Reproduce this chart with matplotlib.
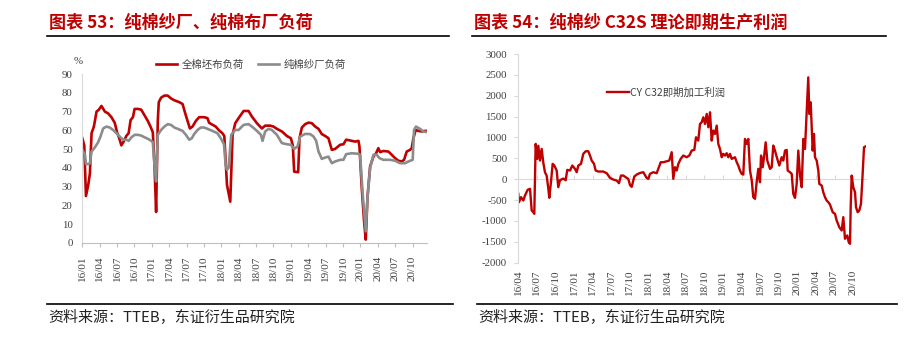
import numpy as np
import matplotlib
matplotlib.use("Agg")
import matplotlib.pyplot as plt
from matplotlib.lines import Line2D

plt.rcParams['axes.unicode_minus'] = False

# ---------------- data: left chart (months since 2016-01) ----------------
left_title = "图表 53：纯棉纱厂、纯棉布厂负荷"
left_ticklabels = ["16/01", "16/04", "16/07", "16/10", "17/01", "17/04", "17/07", "17/10",
                   "18/01", "18/04", "18/07", "18/10", "19/01", "19/04", "19/07", "19/10",
                   "20/01", "20/04", "20/07", "20/10"]
left_yticks = [0, 10, 20, 30, 40, 50, 60, 70, 80, 90]
cloth_name = "全棉坯布负荷"
cloth_m = [0, 0.34, 0.63, 1.03, 1.31, 1.6, 2.0, 2.46, 2.86, 3.31, 3.89, 4.46, 5.03, 5.6, 6.0,
           6.46, 6.74, 7.14, 7.6, 8.0, 8.34, 8.74, 9.03, 9.6, 10.17, 10.74, 11.31, 11.77,
           12.17, 12.46, 12.74, 13.03, 13.2, 13.6, 14.17, 14.74, 15.31, 15.89, 16.74, 17.31,
           17.77, 18.17, 18.57, 19.03, 19.6, 20.17, 21.03, 21.6, 21.89, 22.46, 23.03, 23.6,
           24.17, 24.51, 24.97, 25.54, 25.94, 26.4, 26.98, 27.84, 28.7, 29.28, 30.14, 31.0,
           31.57, 32.44, 33.0, 33.59, 34.45, 35.31, 36.0, 36.34, 36.57, 37.26, 37.49, 37.9,
           38.47, 39.05, 39.62, 40.2, 40.77, 41.34, 41.92, 42.49, 43.07, 43.64, 44.5, 45.08,
           45.54, 46.23, 47.1, 47.67, 47.84, 48.24, 48.64, 48.93, 49.22, 49.68, 50.25, 50.71,
           51.1, 51.4, 51.98, 52.84, 53.41, 53.99, 54.56, 55.14, 55.54, 56.0, 56.57, 56.86,
           57.15, 57.55, 58.0, 58.6, 59.16, 59.56]
cloth_v = [55.8, 52, 25, 31, 37, 58.5, 62, 70, 71, 73, 70, 69, 67, 64, 59,
           55, 52, 54, 57, 58.5, 65.5, 67, 71.4, 71.4, 71, 68, 65, 62,
           59, 41.6, 16.5, 65, 75, 77.4, 78.5, 78.5, 77, 76, 75, 74,
           69, 65, 61, 62, 65, 67, 67, 66.5, 64, 63, 62, 60,
           58.5, 57, 31, 22, 57.6, 63.8, 66.5, 70.3, 70.3, 67.3, 63.8, 61,
           62.5, 62.5, 62, 60.8, 59.4, 57, 55.8, 52, 38, 37.7, 55.8, 61.5,
           63.3, 64.1, 63.8, 62, 60.8, 58, 57, 55.8, 49.6, 50.1, 52.3, 52.6,
           55, 54.6, 54, 54.4, 51.4, 29.2, 11.5, 1.8, 24, 40.8, 46, 47.8,
           50.5, 48.4, 49, 48.7, 47, 45.2, 43.8, 43.4, 44.3, 48.7, 49.6, 50.5,
           55.8, 60.2, 59.7, 59.4, 59.7, 59.7]
yarn_name = "纯棉纱厂负荷"
yarn_m = [0, 0.46, 0.63, 1.03, 1.31, 1.6, 2.17, 2.74, 3.14, 3.6, 4.17, 4.74, 5.31, 5.89,
          6.46, 7.03, 7.6, 8.0, 8.46, 9.03, 9.6, 10.17, 10.74, 11.31, 11.89, 12.17, 12.46,
          12.74, 13.03, 13.6, 14.17, 14.74, 15.31, 15.89, 16.46, 17.31, 17.89, 18.46, 18.91,
          19.31, 19.89, 20.46, 21.03, 21.6, 22.46, 23.31, 23.89, 24.46, 24.74, 24.97, 25.25,
          25.71, 26.4, 26.98, 27.84, 28.7, 29.28, 30.14, 30.83, 31.11, 31.57, 32.15, 32.72,
          33.59, 34.45, 35.31, 36.0, 36.57, 37.15, 37.61, 38.47, 39.33, 39.91, 40.37, 40.77,
          41.34, 41.92, 42.49, 43.07, 43.64, 44.5, 45.08, 45.54, 46.52, 47.67, 47.95, 48.41,
          48.93, 49.22, 49.68, 50.25, 50.83, 51.29, 51.98, 53.13, 53.99, 54.85, 55.71, 56.29,
          57.03, 57.26, 57.6, 58.29, 58.87, 59.56]
yarn_v = [49.6, 47, 42, 42, 42.5, 48.7, 50.9, 53.7, 56.7, 61, 62, 61.5, 60.2, 58.5,
          56.7, 55, 55, 54.4, 56.2, 57.6, 57.6, 57.2, 56.3, 55.5, 54.4, 53.7, 41.6,
          32.8, 57.6, 60.2, 62, 63.3, 62.9, 61.5, 60.8, 59.7, 57.6, 55, 55.8,
          58, 60.2, 61.5, 61.5, 60.8, 59.7, 58.5, 55.8, 52.6, 41.6, 39, 40,
          57.6, 60.2, 60.2, 62.9, 63.3, 62, 59.7, 57.6, 54.4, 59.4, 60.8, 60.2,
          57.6, 53.2, 52.6, 52.3, 50.1, 51.4, 56.7, 58.1, 58, 56.7, 54.4, 48.7,
          44.8, 45.5, 46, 42.5, 43.4, 44.3, 44.3, 47.3, 47.8, 47.5, 47, 25.7,
          6.2, 24, 39.9, 47, 47, 45.2, 44.3, 44.3, 43.8, 42.5, 42.5, 43.4,
          44.3, 60.2, 62, 60.8, 59.4, 59]

# ---------------- data: right chart (months since 2016-04) ----------------
right_title = "图表 54：纯棉纱 C32S 理论即期生产利润"
right_ticklabels = ["16/04", "16/07", "16/10", "17/01", "17/04", "17/07", "17/10", "18/01",
                    "18/04", "18/07", "18/10", "19/01", "19/04", "19/07", "19/10", "20/01",
                    "20/04", "20/07", "20/10"]
right_yticks = [-2000, -1500, -1000, -500, 0, 500, 1000, 1500, 2000, 2500, 3000]
profit_name = "CY C32即期加工利润"
profit_m = [0.0, 0.11, 0.44, 0.81, 1.08, 1.51, 1.89, 2.16, 2.42, 2.58, 2.8, 3.07, 3.23, 3.5,
            3.77, 4.03, 4.3, 4.57, 4.84, 5.0, 5.27, 5.54, 5.81, 6.19, 6.45, 6.72, 7.26, 7.64,
            7.9, 8.34, 8.71, 9.15, 9.42, 9.68, 10.11, 10.48, 10.87, 11.29, 11.56, 11.84, 12.21,
            12.48, 12.9, 13.71, 14.26, 14.79, 15.32, 15.87, 16.24, 16.56, 16.94, 17.32, 17.74,
            18.02, 18.29, 18.71, 19.1, 19.63, 20.16, 20.7, 20.97, 21.24, 21.77, 22.32, 22.58,
            22.97, 23.39, 23.94, 24.35, 24.74, 25.0, 25.27, 25.55, 25.81, 26.19, 26.61, 27.16,
            27.58, 27.97, 28.39, 28.66, 29.03, 29.31, 29.58, 29.84, 30.11, 30.39, 30.65, 30.92,
            31.19, 31.45, 31.73, 32.0, 32.26, 32.53, 32.81, 33.06, 33.34, 33.61, 33.87, 34.15,
            34.42, 34.95, 35.23, 35.48, 35.76, 36.03, 36.29, 36.56, 36.84, 37.1, 37.37, 37.65,
            37.9, 38.18, 38.45, 38.71, 38.98, 39.15, 39.42, 39.63, 39.9, 40.16, 40.6, 40.87,
            41.13, 41.4, 41.77, 42.1, 42.48, 42.74, 43.02, 43.29, 43.45, 43.82, 44.1, 44.35,
            44.63, 44.9, 45.16, 45.44, 45.71, 45.97, 46.24, 46.52, 46.77, 46.94, 47.16, 47.32,
            47.48, 47.69, 47.85, 48.13, 48.39, 48.55, 48.94, 49.19, 49.47, 49.74, 50.0, 50.27,
            50.71, 51.08, 51.35, 51.77, 52.16, 52.42, 52.69, 53.06, 53.29, 53.5, 53.61, 53.77,
            54.03, 54.31, 54.47, 54.74, 55.0, 55.27, 55.48, 55.76, 55.97]
profit_v = [-350, -550, -430, -510, -390, -254, -230, -750, -790, -830, 847, 488, 800, 447,
            727, 400, 167, 88, -220, -445, -72, 368, 328, 208, -191, -24, 16, -24,
            224, 208, 328, 248, 168, 328, 368, 607, 670, 670, 567, 447, 368,
            208, 184, 184, 144, 32, -8, -32, -96, 88, 88, 48, 8,
            -143, -183, 64, 112, 150, 168, 32, 8, 128, 168, 144, 248,
            407, 407, 431, 447, 647, 8, 288, 208, 367, 487, 567, 527,
            567, 687, 703, 1005, 925, 1325, 1365, 1484, 1325, 1564, 1245, 1604,
            925, 1165, 1085, 1285, 845, 725, 527, 607, 567, 623, 527, 607,
            487, 527, 407, 328, 208, 128, 112, 965, 845, 965, 208, -24,
            -430, -470, -64, 248, -72, 567, 287, 527, 885, 447, 248, 287,
            806, 686, 487, 328, 527, 447, 686, 702, 208, 168, 128, -351,
            -447, -112, 686, 88, -191, 965, 726, 1643, 2440, 1564, 1843, 1245,
            686, 1085, 527, 447, 208, -112, -152, -311, -431, -511, -550, -606,
            -790, -830, -988, -1148, -1228, -909, -1427, -1347, -1507, -1547, -670, 88,
            -191, -311, -670, -790, -750, -590, -40, 766, 782]

source_text = "资料来源：TTEB，东证衍生品研究院"

# ---------------- styling ----------------
RED = "#C00000"
GRAY = "#8C8C8C"
TICKC = "#404040"
SERIF = ["Liberation Serif", "DejaVu Serif"]
CJK = ["Noto Sans CJK SC", "DejaVu Sans"]

W, H = 908, 355
fig = plt.figure(figsize=(W / 100, H / 100), dpi=100)


def fx(px):
    return px / W


def fy(py):
    return 1 - py / H


def label_to_month(lbl, y0, m0):
    yy, mm = lbl.split("/")
    return (int(yy) - y0) * 12 + int(mm) - m0


# ---------------- left chart ----------------
axL = fig.add_axes([fx(82.3), fy(243), fx(427) - fx(82.3), fy(74) - fy(243)])
axL.plot(cloth_m, cloth_v, color=RED, lw=1.9, label=cloth_name, solid_joinstyle="round")
axL.plot(yarn_m, yarn_v, color=GRAY, lw=1.9, label=yarn_name, solid_joinstyle="round")
axL.set_xlim(0, 59.5)
axL.set_ylim(0, 90)
axL.set_yticks(left_yticks)
axL.set_yticklabels([str(v) for v in left_yticks])
lt = [label_to_month(l, 16, 1) for l in left_ticklabels]
axL.set_xticks(lt)
axL.set_xticklabels(left_ticklabels, rotation=90)
for s in ["top", "right"]:
    axL.spines[s].set_visible(False)
axL.spines["left"].set_color("#D9D9D9")
axL.spines["bottom"].set_color("#BFBFBF")
axL.tick_params(axis="y", length=0, pad=7, labelsize=7.8, labelcolor=TICKC)
axL.tick_params(axis="x", length=3, color="#BFBFBF", pad=6, labelsize=8, labelcolor=TICKC)
for t in axL.get_xticklabels() + axL.get_yticklabels():
    t.set_fontfamily(SERIF)
fig.text(fx(78), fy(62), "%", fontsize=7.8, family=SERIF, color=TICKC, ha="center", va="center")
legL = axL.legend(loc="center", bbox_to_anchor=(fx(251), fy(65)), bbox_transform=fig.transFigure,
                  ncol=2, frameon=False, prop={"family": CJK, "size": 7.5},
                  handlelength=2.0, handletextpad=0.4, columnspacing=1.4,
                  borderpad=0, borderaxespad=0)
for t in legL.get_texts():
    t.set_color("#404040")

# ---------------- right chart ----------------
axR = fig.add_axes([fx(518.3), fy(262.7), fx(865.5) - fx(518.3), fy(54) - fy(262.7)])
axR.plot(profit_m, profit_v, color=RED, lw=1.7, label=profit_name, solid_joinstyle="round")
axR.set_xlim(0, 56)
axR.set_ylim(-2000, 3000)
axR.set_yticks(right_yticks)
axR.set_yticklabels([str(v) for v in right_yticks])
rt = [label_to_month(l, 16, 4) for l in right_ticklabels]
axR.set_xticks(rt)
axR.set_xticklabels(right_ticklabels, rotation=90)
for s in ["top", "right", "bottom"]:
    axR.spines[s].set_visible(False)
axR.spines["left"].set_color("#D9D9D9")
axR.tick_params(axis="y", length=3, color="#D9D9D9", pad=5, labelsize=7.8, labelcolor=TICKC)
axR.tick_params(axis="x", length=0, pad=5, labelsize=8, labelcolor=TICKC)
for t in axR.get_xticklabels() + axR.get_yticklabels():
    t.set_fontfamily(SERIF)
zero_frac = (0 - (-2000)) / 5000
sec = axR.secondary_xaxis(zero_frac)
sec.set_xticks(rt)
sec.set_xticklabels([])
sec.spines["bottom"].set_color("#D9D9D9")
sec.tick_params(axis="x", length=3, color="#D9D9D9", direction="in")
legR = axR.legend(loc="center left", bbox_to_anchor=(fx(607), fy(93)), bbox_transform=fig.transFigure,
                  frameon=False, prop={"family": CJK, "size": 7.5},
                  handlelength=2.1, handletextpad=0.1, borderpad=0, borderaxespad=0)
for t in legR.get_texts():
    t.set_color("#404040")

# ---------------- titles, rules, sources ----------------
fig.text(fx(49), fy(23), left_title, fontsize=12.3, weight="bold", color=RED,
         family=CJK, ha="left", va="center")
fig.text(fx(474), fy(23), right_title, fontsize=12.3, weight="bold", color=RED,
         family=CJK, ha="left", va="center")
for x0, x1 in [(47, 449), (472, 886)]:
    fig.add_artist(Line2D([fx(x0), fx(x1)], [fy(36), fy(36)], color="black", lw=1.2))
for x0, x1 in [(47, 453), (477, 897)]:
    fig.add_artist(Line2D([fx(x0), fx(x1)], [fy(303.5), fy(303.5)], color="black", lw=1.2))
fig.text(fx(48), fy(317), source_text, fontsize=10.8, color="#222222", family=CJK,
         ha="left", va="center")
fig.text(fx(478), fy(317), source_text, fontsize=10.8, color="#222222", family=CJK,
         ha="left", va="center")

fig.savefig("out.png", dpi=100)
